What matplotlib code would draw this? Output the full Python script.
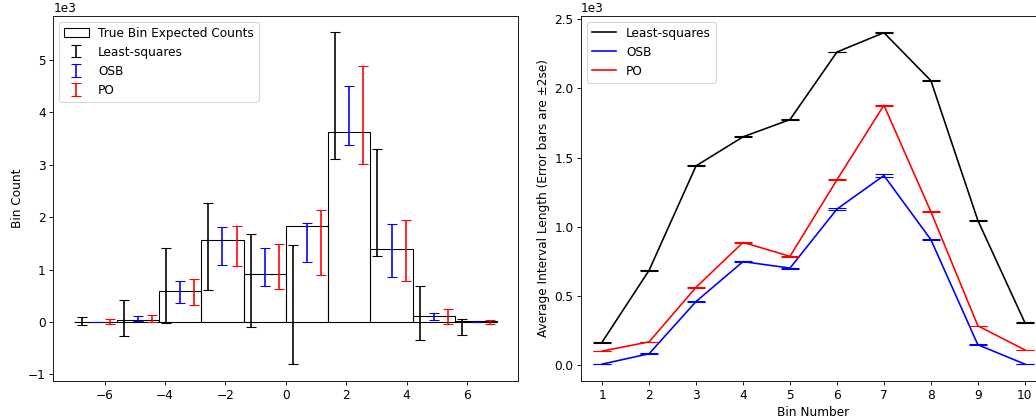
import numpy as np
import matplotlib
matplotlib.use("Agg")
import matplotlib.pyplot as plt

plt.rcParams["font.size"] = 11.2

# left panel: one realisation, bins of width 1.4 on [-7, 7]
bin_edges = np.linspace(-7, 7, 11)
true_counts = [5, 45, 600, 1560, 910, 1830, 3620, 1390, 110, 10]

ls_low = [-64, -270, -25, 610, -100, -810, 3120, 1250, -350, -240]
ls_high = [90, 410, 1410, 2270, 1680, 1460, 5530, 3310, 690, 60]
osb_low = [-3, 25, 355, 1080, 690, 1150, 3380, 850, 30, -3]
osb_high = [3, 110, 790, 1820, 1410, 1890, 4510, 1870, 180, 3]
po_low = [-40, -10, 320, 1060, 620, 900, 3010, 780, -30, -40]
po_high = [50, 140, 820, 1830, 1480, 2130, 4880, 1940, 240, 45]

# right panel: average interval length per bin (+-2se)
bin_number = np.arange(1, 11)
ls_len = [164, 684, 1440, 1650, 1775, 2264, 2404, 2057, 1045, 306]
ls_err = [3, 3, 3, 3, 3, 3, 3, 3, 3, 3]
osb_len = [5, 80, 458, 747, 700, 1127, 1370, 906, 145, 5]
osb_err = [2, 2, 3, 3, 3, 5, 8, 5, 2, 1]
po_len = [99, 166, 561, 886, 785, 1339, 1879, 1108, 282, 108]
po_err = [2, 2, 3, 3, 3, 3, 5, 3, 2, 2]

fig = plt.figure(figsize=(1036 / 78, 420 / 78), dpi=78)
ax1 = fig.add_axes([0.0515, 0.0929, 0.4488, 0.8698])
ax2 = fig.add_axes([0.5608, 0.0929, 0.4488, 0.8698])

width = bin_edges[1] - bin_edges[0]
centers = bin_edges[:-1] + width / 2
shift = width / 3

ax1.bar(centers, true_counts, width=width, fill=False, edgecolor="k",
        label="True Bin Expected Counts")
for xs, lo, hi, col, name in [
    (centers - shift, ls_low, ls_high, "k", "Least-squares"),
    (centers, osb_low, osb_high, "b", "OSB"),
    (centers + shift, po_low, po_high, "r", "PO"),
]:
    lo = np.array(lo)
    hi = np.array(hi)
    ax1.errorbar(xs, (lo + hi) / 2, yerr=(hi - lo) / 2, fmt="none",
                 ecolor=col, capsize=5, lw=1.5, label=name)
ax1.set_ylabel("Bin Count")
ax1.ticklabel_format(axis="y", style="sci", scilimits=(0, 0))
ax1.legend(loc="upper left")

for vals, errs, col, name in [
    (ls_len, ls_err, "k", "Least-squares"),
    (osb_len, osb_err, "b", "OSB"),
    (po_len, po_err, "r", "PO"),
]:
    ax2.plot(bin_number, vals, color=col, lw=1.5, label=name)
    ax2.errorbar(bin_number, vals, yerr=errs, fmt="none", ecolor=col,
                 capsize=8, lw=1.5)
ax2.set_xticks(bin_number)
ax2.set_xlabel("Bin Number")
ax2.set_ylabel("Average Interval Length (Error bars are \u00b12se)")
ax2.ticklabel_format(axis="y", style="sci", scilimits=(0, 0))
ax2.legend(loc="upper left")

fig.savefig("out.png", dpi=78)
